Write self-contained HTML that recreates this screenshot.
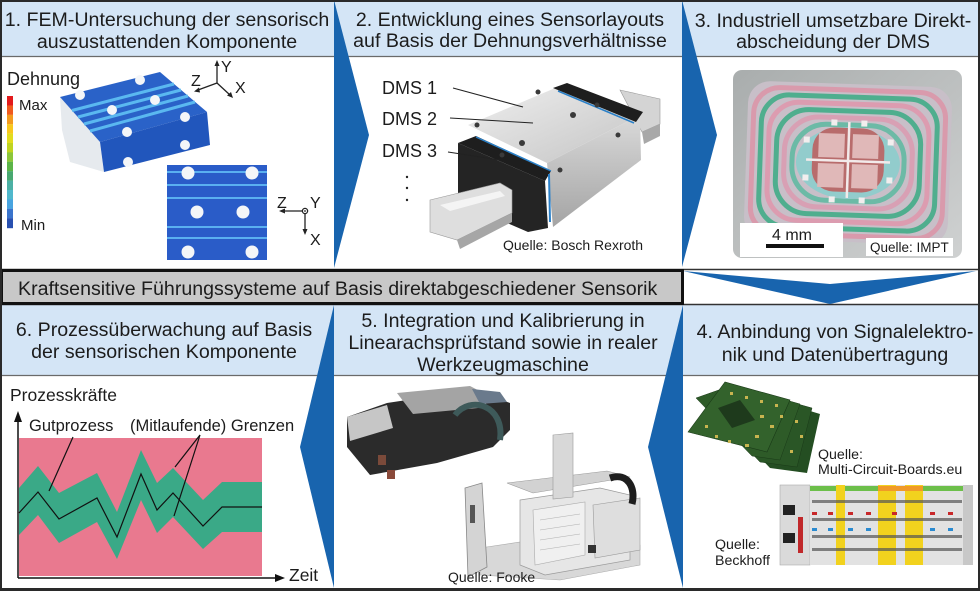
<!DOCTYPE html>
<html><head><meta charset="utf-8"><style>
html,body{margin:0;padding:0;background:#fff;}
svg{display:block;}
text{font-family:"Liberation Sans",Arial,sans-serif;fill:#1c1c1c;}
</style></head><body>
<svg width="980" height="591" viewBox="0 0 980 591" xmlns="http://www.w3.org/2000/svg">
<defs>
<linearGradient id="gtop" x1="0" y1="0" x2="1" y2="1"><stop offset="0" stop-color="#efefef"/><stop offset="1" stop-color="#c4c4c4"/></linearGradient>
<linearGradient id="gside" x1="0" y1="0" x2="0" y2="1"><stop offset="0" stop-color="#dadada"/><stop offset="1" stop-color="#a4a4a4"/></linearGradient>
<linearGradient id="g3" x1="0" y1="0" x2="1" y2="1"><stop offset="0" stop-color="#a9adad"/><stop offset="1" stop-color="#cfd1d1"/></linearGradient>
</defs>
<rect x="0" y="0" width="980" height="591" fill="#fff"/>
<!-- headers -->
<rect x="0" y="0" width="980" height="56" fill="#d4e5f6"/>
<line x1="0" y1="56.5" x2="980" y2="56.5" stroke="#6a6a6a" stroke-width="1.2"/>
<rect x="0" y="305" width="980" height="70" fill="#d4e5f6"/>
<line x1="0" y1="375.5" x2="980" y2="375.5" stroke="#6a6a6a" stroke-width="1.2"/>
<line x1="0" y1="269.5" x2="980" y2="269.5" stroke="#333" stroke-width="1.5"/>
<line x1="0" y1="304.5" x2="980" y2="304.5" stroke="#333" stroke-width="1.5"/>
<rect x="1.5" y="270.5" width="681" height="33" fill="#c8c8c8" stroke="#111" stroke-width="3"/>

<!-- header texts -->
<g font-size="19.6" text-anchor="middle">
<text x="167" y="26">1. FEM-Untersuchung der sensorisch</text>
<text x="167" y="48">auszustattenden Komponente</text>
<text x="510" y="26">2. Entwicklung eines Sensorlayouts</text>
<text x="510" y="47">auf Basis der Dehnungsverhältnisse</text>
<text x="833" y="27">3. Industriell umsetzbare Direkt-</text>
<text x="833" y="48">abscheidung der DMS</text>
<text x="164" y="336">6. Prozessüberwachung auf Basis</text>
<text x="164" y="358">der sensorischen Komponente</text>
<text x="503" y="327">5. Integration und Kalibrierung in</text>
<text x="503" y="349">Linearachsprüfstand sowie in realer</text>
<text x="503" y="371">Werkzeugmaschine</text>
<text x="835" y="338">4. Anbindung von Signalelektro-</text>
<text x="835" y="361">nik und Datenübertragung</text>
</g>
<text x="18" y="295" font-size="19.6">Kraftsensitive Führungssysteme auf Basis direktabgeschiedener Sensorik</text>

<!-- PANEL 1 -->
<text x="7" y="85" font-size="18">Dehnung</text>
<g>
<rect x="7" y="96" width="6" height="9.5" fill="#e31a1c"/>
<rect x="7" y="105.4" width="6" height="9.5" fill="#f05a1e"/>
<rect x="7" y="114.8" width="6" height="9.5" fill="#f39a1e"/>
<rect x="7" y="124.2" width="6" height="9.5" fill="#f8c81e"/>
<rect x="7" y="133.6" width="6" height="9.5" fill="#e2dc1e"/>
<rect x="7" y="143" width="6" height="9.5" fill="#c0d420"/>
<rect x="7" y="152.4" width="6" height="9.5" fill="#8cc63a"/>
<rect x="7" y="161.8" width="6" height="9.5" fill="#5cb448"/>
<rect x="7" y="171.2" width="6" height="9.5" fill="#48a870"/>
<rect x="7" y="180.6" width="6" height="9.5" fill="#4cb0a4"/>
<rect x="7" y="190" width="6" height="9.5" fill="#50b8cc"/>
<rect x="7" y="199.4" width="6" height="9.5" fill="#48a4e0"/>
<rect x="7" y="208.8" width="6" height="9.5" fill="#3a74cc"/>
<rect x="7" y="218.2" width="6" height="10" fill="#2850b0"/>
</g>
<text x="19" y="110" font-size="15">Max</text>
<text x="21" y="230" font-size="15">Min</text>
<!-- FEM block -->
<polygon points="60,97 100,142 104,172 70,162 62,130" fill="#e6eaee"/>
<polygon points="60,97 160,72 207,112 100,142" fill="#2a62c8"/>
<polygon points="100,142 207,112 210,145 104,172" fill="#2156bc"/>
<g stroke="#5ab8f0" stroke-width="3">
<line x1="72" y1="110.5" x2="174" y2="84"/>
<line x1="78" y1="117" x2="181" y2="90"/>
<line x1="84" y1="124" x2="188" y2="96"/>
<line x1="90" y1="131" x2="195" y2="102"/>
</g>
<g fill="#f4f6f8">
<circle cx="80" cy="95" r="5"/><circle cx="140" cy="80" r="5"/><circle cx="155" cy="100" r="5"/>
<circle cx="112" cy="110" r="5"/><circle cx="185" cy="117" r="5"/><circle cx="127" cy="132" r="5"/>
<circle cx="185" cy="145" r="5"/><circle cx="128" cy="162" r="5"/>
</g>
<rect x="167" y="165" width="100" height="95" fill="#2a5cc8"/>
<g stroke="#5ab0f0" stroke-width="2">
<line x1="167" y1="172" x2="267" y2="172"/><line x1="167" y1="185" x2="267" y2="185"/>
<line x1="167" y1="198" x2="267" y2="198"/><line x1="167" y1="227" x2="267" y2="227"/>
<line x1="167" y1="238" x2="267" y2="238"/>
</g>
<g fill="#f4f6f8">
<circle cx="188" cy="173" r="6.5"/><circle cx="252" cy="173" r="6.5"/>
<circle cx="197" cy="212" r="6.5"/><circle cx="243" cy="212" r="6.5"/>
<circle cx="188" cy="252" r="6.5"/><circle cx="252" cy="252" r="6.5"/>
</g>
<!-- axes top -->
<g stroke="#222" stroke-width="1.3">
<line x1="217" y1="83" x2="217" y2="65"/><line x1="217" y1="83" x2="198" y2="90"/><line x1="217" y1="83" x2="230" y2="95"/>
</g>
<polygon points="217,60 214.5,66 219.5,66" fill="#222"/>
<polygon points="194,91.5 199,87.5 200,92.5" fill="#222"/>
<polygon points="233,98 227,95.5 231,92" fill="#222"/>
<text x="191" y="86" font-size="16">Z</text>
<text x="221" y="72" font-size="16">Y</text>
<text x="235" y="93" font-size="16">X</text>
<!-- axes bottom -->
<g stroke="#222" stroke-width="1.3" fill="none">
<circle cx="305" cy="211" r="2.6"/>
<line x1="302" y1="211" x2="284" y2="211"/><line x1="305" y1="214" x2="305" y2="230"/>
</g>
<circle cx="305" cy="211" r="0.9" fill="#222"/>
<polygon points="279,211 285,208.5 285,213.5" fill="#222"/>
<polygon points="305,235 302.5,229 307.5,229" fill="#222"/>
<text x="277" y="208" font-size="16">Z</text>
<text x="310" y="208" font-size="16">Y</text>
<text x="310" y="245" font-size="16">X</text>

<!-- PANEL 2 -->
<polygon points="620,90 660,99 660,124 642,132" fill="#d4d4d4" stroke="#9a9a9a" stroke-width="0.6"/>
<polygon points="642,132 660,124 660,136 644,144" fill="#a8a8a8"/>
<polygon points="547,163 640,115 641,160 553,227" fill="url(#gside)"/>
<polygon points="468,125 560,86 640,115 547,163" fill="url(#gtop)"/>
<polygon points="553,88 567,83 643,112 636,122" fill="#1e1e1e"/>
<line x1="558" y1="91" x2="634" y2="123" stroke="#2a80c8" stroke-width="1.5"/>
<polygon points="458,143 476,136 551,171 545,181" fill="#1e1e1e"/>
<line x1="476" y1="137" x2="551" y2="171" stroke="#2a80c8" stroke-width="1.5"/>
<polygon points="458,143 545,181 548,228 528,232 458,202" fill="#242424"/>
<line x1="549" y1="174" x2="550" y2="222" stroke="#2a80c8" stroke-width="2"/>
<polygon points="430,200 500,183 512,190 512,213 457,240 430,232" fill="#dedede" stroke="#9a9a9a" stroke-width="0.6"/>
<polygon points="457,240 512,213 512,222 460,249" fill="#a6a6a6"/>
<polygon points="440,205 500,191 505,196 450,211" fill="#f4f4f4"/>
<g fill="#3a3a3a">
<circle cx="538" cy="92" r="2.5"/><circle cx="477" cy="125" r="2.5"/><circle cx="573" cy="115" r="3"/>
<circle cx="522" cy="143" r="3"/><circle cx="502" cy="155" r="2.5"/><circle cx="597" cy="105" r="2.5"/>
<circle cx="618" cy="135" r="2.5"/><circle cx="560" cy="170" r="2.5"/>
</g>
<g stroke="#222" stroke-width="1">
<line x1="453" y1="88" x2="523" y2="107"/>
<line x1="450" y1="118" x2="533" y2="123"/>
<line x1="448" y1="152" x2="500" y2="160"/>
</g>
<g font-size="18">
<text x="382" y="94">DMS 1</text>
<text x="382" y="125">DMS 2</text>
<text x="382" y="157">DMS 3</text>
</g>
<g fill="#222"><circle cx="407" cy="177" r="1.2"/><circle cx="407" cy="188" r="1.2"/><circle cx="407" cy="200" r="1.2"/></g>
<text x="503" y="250" font-size="14">Quelle: Bosch Rexroth</text>

<!-- PANEL 3 -->
<rect x="733" y="70" width="229" height="188" rx="9" fill="url(#g3)"/>
<g transform="rotate(2 848 162)">
<rect x="746" y="84" width="204" height="158" rx="22" fill="#c8bfc8"/>
<g fill="none" stroke-width="5">
<rect x="752" y="90" width="192" height="146" rx="26" stroke="#d99aac"/>
<rect x="760" y="97" width="176" height="132" rx="28" stroke="#4fae8e"/>
<rect x="768" y="104" width="160" height="118" rx="30" stroke="#dc9cb0"/>
<rect x="776" y="111" width="144" height="104" rx="32" stroke="#4fae8e"/>
<rect x="784" y="118" width="128" height="90" rx="34" stroke="#d8a0b4"/>
<rect x="792" y="125" width="112" height="76" rx="34" stroke="#6cbaa6"/>
</g>
<ellipse cx="848" cy="163" rx="52" ry="36" fill="#92cccc"/>
<rect x="812" y="128" width="72" height="64" rx="22" fill="#b86c6c"/>
<rect x="818" y="134" width="26" height="24" fill="#e0b8b8"/>
<rect x="852" y="134" width="26" height="24" fill="#e0b8b8"/>
<rect x="818" y="164" width="26" height="24" fill="#e0b8b8"/>
<rect x="852" y="164" width="26" height="24" fill="#e0b8b8"/>
<g stroke="#f2eaea" stroke-width="2.5"><line x1="806" y1="161" x2="890" y2="161"/><line x1="848" y1="122" x2="848" y2="198"/></g>
<g fill="#f2eeee">
<rect x="803" y="138" width="6" height="6"/><rect x="803" y="176" width="6" height="6"/>
<rect x="887" y="138" width="6" height="6"/><rect x="887" y="176" width="6" height="6"/>
<rect x="830" y="120" width="6" height="6"/><rect x="860" y="120" width="6" height="6"/>
<rect x="830" y="197" width="6" height="6"/><rect x="860" y="197" width="6" height="6"/>
</g>
</g>
<rect x="740" y="223" width="103" height="34" fill="#fff"/>
<text x="792" y="240" font-size="16" text-anchor="middle">4 mm</text>
<rect x="766" y="244" width="58" height="4" fill="#111"/>
<rect x="866" y="238" width="87" height="18" fill="#fff"/>
<text x="870" y="252" font-size="13.5">Quelle: IMPT</text>

<!-- PANEL 6 -->
<text x="10" y="401" font-size="17.5">Prozesskräfte</text>
<rect x="19" y="438" width="243" height="138" fill="#e9798f"/>
<polygon points="19,488 38,466 59,493 97,473 117,512 141,450 157,483 173,468 203,500 222,482 262,482 262,532 222,532 203,549 173,517 157,533 141,500 117,559 97,522 59,543 38,515 19,535" fill="#3aa987"/>
<polyline points="19,513 38,492 59,519 97,498 117,537 141,474 157,510 173,493 203,526 222,507 262,507" fill="none" stroke="#111" stroke-width="1.2"/>
<g stroke="#111" stroke-width="1.2">
<line x1="73" y1="437" x2="49" y2="491"/>
<line x1="200" y1="435" x2="175" y2="467"/>
<line x1="200" y1="435" x2="174" y2="516"/>
</g>
<g stroke="#111" stroke-width="1.5">
<line x1="18" y1="578" x2="18" y2="420"/>
<line x1="18" y1="578" x2="278" y2="578"/>
</g>
<polygon points="18,411 14,422 22,422" fill="#111"/>
<polygon points="285,578 275,574 275,582" fill="#111"/>
<text x="29" y="431" font-size="16.5">Gutprozess</text>
<text x="130" y="431" font-size="16.5">(Mitlaufende) Grenzen</text>
<text x="289" y="581" font-size="17.5">Zeit</text>

<!-- PANEL 5 -->
<polygon points="347,417 347,447 370,475 437,463 493,447 510,430 510,403 473,390 387,403" fill="#2b2b2b"/>
<polygon points="397,393 470,386 495,399 478,408 413,414" fill="#a4a4a4"/>
<polygon points="347,417 387,405 393,428 350,441" fill="#c6c6c6"/>
<polygon points="472,389 500,392 507,402 480,404" fill="#6a7a8c"/>
<path d="M455,415 C470,395 505,405 500,440" fill="none" stroke="#3e5a5a" stroke-width="6"/>
<rect x="378" y="455" width="8" height="10" fill="#7a4a3a"/>
<rect x="387" y="470" width="8" height="9" fill="#8a4a3a"/>
<!-- gantry -->
<polygon points="480,548 600,530 640,545 640,565 560,580 480,575" fill="#d8d8d8" stroke="#aaa" stroke-width="0.6"/>
<polygon points="520,500 600,488 630,495 630,560 545,575 520,565" fill="#e6e6e6" stroke="#9a9a9a" stroke-width="0.7"/>
<polygon points="533,510 585,502 585,555 535,565" fill="#f0f0f0" stroke="#aaa" stroke-width="0.6"/>
<g stroke="#b0b0b0" stroke-width="0.6"><line x1="540" y1="520" x2="580" y2="514"/><line x1="540" y1="530" x2="580" y2="524"/><line x1="540" y1="540" x2="580" y2="534"/><line x1="540" y1="550" x2="580" y2="544"/></g>
<polygon points="593,505 640,498 640,550 595,558" fill="#dedede" stroke="#9a9a9a" stroke-width="0.6"/>
<polygon points="507,483 607,471 630,477 533,493" fill="#d2d2d2" stroke="#999" stroke-width="0.6"/>
<polygon points="553,435 573,433 573,497 553,499" fill="#d8d8d8" stroke="#999" stroke-width="0.6"/>
<path d="M610,478 C628,472 636,488 632,504" fill="none" stroke="#1e1e1e" stroke-width="7"/>
<polygon points="465,488 482,483 487,567 468,577" fill="#d4d4d4" stroke="#888" stroke-width="0.8"/>
<rect x="470" y="505" width="5" height="18" fill="#555"/>
<rect x="588" y="545" width="8" height="8" fill="#333"/>
<text x="448" y="582" font-size="14">Quelle: Fooke</text>

<!-- PANEL 4 -->
<polygon points="710,404 747,392 820,414 807,473 770,468" fill="#244e22"/>
<polygon points="703,402 740,388 812,408 797,467 760,462" fill="#2a5626" stroke="#1a3a18" stroke-width="0.5"/>
<polygon points="696,398 733,385 800,404 780,460 752,456" fill="#2e5b28" stroke="#1a3a18" stroke-width="0.5"/>
<polygon points="688,432 725,382 790,400 767,452" fill="#33622c" stroke="#1a3a18" stroke-width="0.6"/>
<polygon points="718,408 740,400 755,420 732,428" fill="#1e3a1c"/>
<g fill="#c8b450">
<rect x="730" y="392" width="3" height="3"/><rect x="745" y="396" width="3" height="3"/><rect x="760" y="400" width="3" height="3"/><rect x="775" y="404" width="3" height="3"/>
<rect x="760" y="415" width="4" height="3"/><rect x="770" y="425" width="4" height="3"/><rect x="755" y="435" width="4" height="3"/><rect x="745" y="444" width="4" height="3"/>
<rect x="705" y="425" width="3" height="3"/><rect x="715" y="435" width="3" height="3"/><rect x="728" y="440" width="3" height="3"/><rect x="780" y="415" width="3" height="3"/>
<rect x="795" y="420" width="3" height="3"/><rect x="800" y="435" width="3" height="3"/><rect x="790" y="450" width="3" height="3"/>
</g>
<text x="818" y="459" font-size="14.2">Quelle:</text>
<text x="818" y="474" font-size="14.2">Multi-Circuit-Boards.eu</text>
<!-- Beckhoff -->
<rect x="780" y="485" width="30" height="80" fill="#dadada" stroke="#aaa" stroke-width="0.6"/>
<rect x="783" y="505" width="12" height="10" fill="#222"/>
<rect x="783" y="533" width="12" height="10" fill="#222"/>
<rect x="798" y="517" width="5" height="36" fill="#c0282a"/>
<g>
<rect x="810" y="485" width="163" height="80" fill="#e2e2e2"/>
<rect x="836" y="485" width="9" height="80" fill="#f2d21e"/>
<rect x="878" y="485" width="9" height="80" fill="#f2d21e"/>
<rect x="887" y="485" width="9" height="80" fill="#f2d21e"/>
<rect x="905" y="485" width="9" height="80" fill="#f2d21e"/>
<rect x="914" y="485" width="9" height="80" fill="#f2d21e"/>
<rect x="810" y="486" width="26" height="5" fill="#6cbf4a"/>
<rect x="845" y="486" width="33" height="5" fill="#6cbf4a"/>
<rect x="878" y="486" width="45" height="5" fill="#f09a28"/>
<rect x="923" y="486" width="40" height="5" fill="#6cbf4a"/>
<g fill="#c8282a">
<rect x="812" y="512" width="5" height="3"/><rect x="828" y="512" width="5" height="3"/><rect x="848" y="512" width="5" height="3"/><rect x="866" y="512" width="5" height="3"/><rect x="892" y="512" width="5" height="3"/><rect x="930" y="512" width="5" height="3"/><rect x="948" y="512" width="5" height="3"/>
</g>
<g fill="#2a8ad0">
<rect x="812" y="528" width="5" height="3"/><rect x="828" y="528" width="5" height="3"/><rect x="848" y="528" width="5" height="3"/><rect x="866" y="528" width="5" height="3"/><rect x="930" y="528" width="5" height="3"/><rect x="948" y="528" width="5" height="3"/>
</g>
<g fill="#555" opacity="0.7">
<rect x="812" y="500" width="150" height="3"/><rect x="812" y="518" width="150" height="3"/><rect x="812" y="535" width="150" height="3"/><rect x="812" y="548" width="150" height="3"/>
</g>
<rect x="963" y="485" width="10" height="80" fill="#c8c8c8"/>
</g>
<text x="715" y="549" font-size="14.2">Quelle:</text>
<text x="715" y="565" font-size="14.2">Beckhoff</text>

<!-- ARROWS -->
<g fill="#1864ae">
<polygon points="334,0 369,135 334,268"/>
<polygon points="682,0 717,135 682,267"/>
<polygon points="683,271 830,284 976,271 830,304"/>
<polygon points="334,305 300,447 334,588"/>
<polygon points="683,305 648,447 683,588"/>
</g>
<!-- outer border -->
<rect x="1" y="1" width="978" height="588.5" fill="none" stroke="#2a2a2a" stroke-width="2"/>
<line x1="0" y1="589.5" x2="980" y2="589.5" stroke="#2a2a2a" stroke-width="3"/>
</svg>
</body></html>
